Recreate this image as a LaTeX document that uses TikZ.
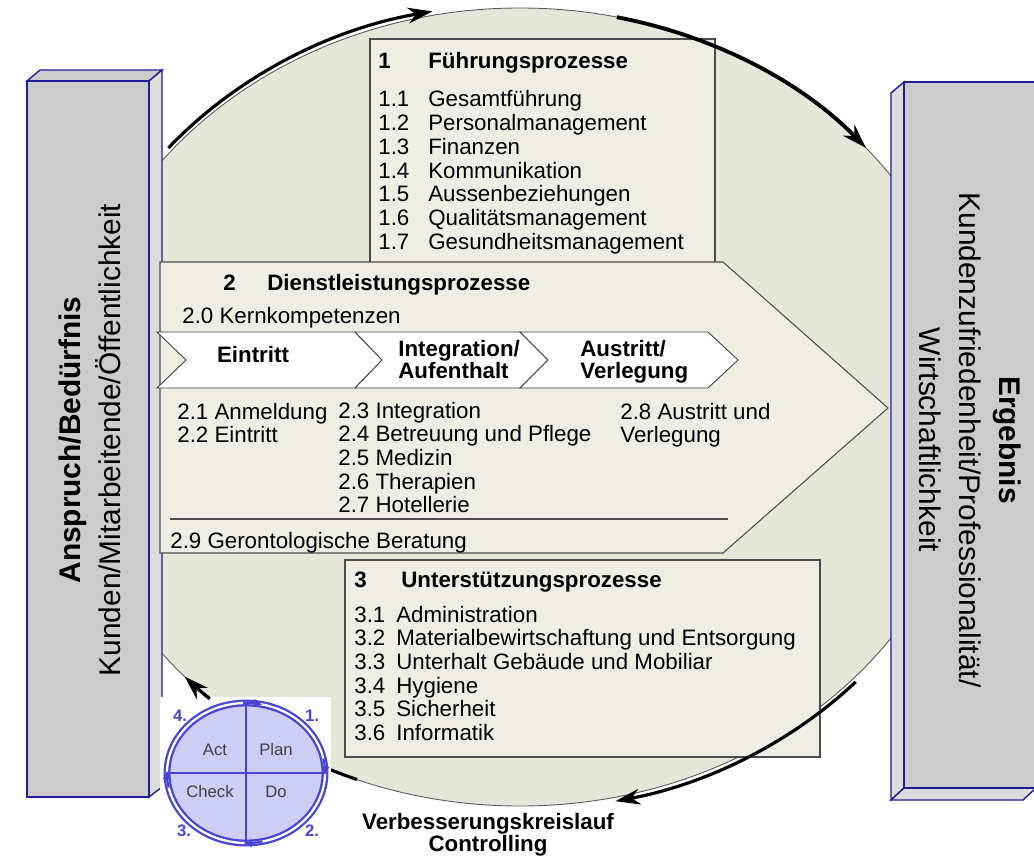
\documentclass[tikz,border=0pt]{standalone}
\usepackage{fontspec}
\setmainfont{Liberation Sans}
\usetikzlibrary{arrows.meta}

\definecolor{circfill}{RGB}{229,231,216}
\definecolor{boxfill}{RGB}{238,238,227}
\definecolor{sidegray}{RGB}{204,204,204}
\definecolor{sidelight}{RGB}{220,220,220}
\definecolor{sideblue}{RGB}{30,30,150}
\definecolor{pdcablue}{RGB}{70,70,210}
\definecolor{pdcafill}{RGB}{205,205,245}

\tikzset{
  proc/.style={fill=boxfill, draw=black!70, line width=0.6pt},
  chev/.style={fill=white, draw=black!75, line width=0.5pt},
  side/.style={fill=sidegray, draw=sideblue, line width=0.8pt},
  sidefl/.style={fill=sidelight, draw=sideblue, line width=0.8pt},
  txt/.style={font=\fontsize{12.7}{13.5}\selectfont, inner sep=0pt, anchor=base west},
  head/.style={txt, font=\fontsize{12.7}{13.5}\selectfont\bfseries},
  big/.style={font=\fontsize{17}{22.7}\selectfont, inner sep=0pt, align=center},
  cyc/.style={line width=1.8pt, -{Stealth[length=14pt,width=9pt]}},
  pdca/.style={font=\fontsize{9.5}{11}\selectfont, text=black!75, inner sep=0pt},
  pnum/.style={font=\fontsize{9.5}{11}\selectfont\bfseries, text=pdcablue, inner sep=0pt},
}

\begin{document}
\begin{tikzpicture}[x=0.02cm, y=0.02cm]
  \useasboundingbox (0,0) rectangle (1034,-855);
  \coordinate (ctr) at (520,-407);

  % big cycle
  \fill[circfill] (ctr) ellipse[x radius=455, y radius=399];
  \draw[black!65, line width=0.5pt] (ctr) ellipse[x radius=455, y radius=399];
  \draw[line width=1.8pt] ([shift={(-111:455 and 399)}]ctr) arc[start angle=-111, end angle=-134, x radius=455, y radius=399];

  % left column
  \draw[side] (27,-81) -- (40,-70) -- (162,-70) -- (149,-81) -- cycle;
  \draw[sidefl] (149,-81) -- (162,-70) -- (162,-787) -- (149,-797) -- cycle;
  \draw[side] (27,-81) rectangle (149,-797);
  \node[big, rotate=90] (anspruch) at (90,-440)
    {\textbf{Anspruch/Bedürfnis}\\Kunden/Mitarbeitende/Öffentlichkeit};

  % right column
  \draw[sidefl] (891,-93) -- (904,-82) -- (904,-788) -- (891,-800) -- cycle;
  \draw[sidefl] (891,-800) -- (904,-788) -- (1036,-788) -- (1023,-800) -- cycle;
  \draw[side] (904,-82) rectangle (1036,-788);
  \node[big, rotate=-90] (ergebnis) at (970,-440)
    {\textbf{Ergebnis}\\Kundenzufriedenheit/Professionalität/\\Wirtschaftlichkeit};

  % 1 Fuehrungsprozesse
  \draw[proc] (370,-39) rectangle (715,-300);
  \node[head] (n1) at (378,-69) {1};
  \node[head] (h1) at (428,-69) {Führungsprozesse};
  \node[txt] (l1) at (378,-107) {\begin{tabular}[t]{@{}p{1cm}@{}l@{}}
    1.1 & Gesamtführung\\ 1.2 & Personalmanagement\\ 1.3 & Finanzen\\
    1.4 & Kommunikation\\ 1.5 & Aussenbeziehungen\\ 1.6 & Qualitätsmanagement\\
    1.7 & Gesundheitsmanagement\end{tabular}};

  % 2 Dienstleistungsprozesse
  \draw[proc] (160,-262) -- (723,-262) -- (888,-408) -- (723,-553) -- (160,-553) -- cycle;
  \node[head] (n2) at (223,-290) {2};
  \node[head] (h2) at (267,-290) {Dienstleistungsprozesse};
  \node[txt] (k20) at (182,-323) {2.0 Kernkompetenzen};
  \draw[chev] (157,-332) -- (355,-332) -- (382,-360) -- (355,-388) -- (157,-388) -- (186,-360) -- cycle;
  \draw[chev] (355,-332) -- (520,-332) -- (548,-360) -- (520,-388) -- (355,-388) -- (382,-360) -- cycle;
  \draw[chev] (520,-332) -- (708,-332) -- (738,-360) -- (708,-388) -- (520,-388) -- (548,-360) -- cycle;
  \node[head, anchor=base] (c1) at (253,-362) {Eintritt};
  \node[head] (c2) at (398,-356) {\begin{tabular}[t]{@{}l@{}}Integration/\\[-0.9pt]Aufenthalt\end{tabular}};
  \node[head] (c3) at (580,-356) {\begin{tabular}[t]{@{}l@{}}Austritt/\\[-0.9pt]Verlegung\end{tabular}};
  \node[txt] (l2a) at (177,-419) {\begin{tabular}[t]{@{}l@{}}2.1 Anmeldung\\ 2.2 Eintritt\end{tabular}};
  \node[txt] (l2b) at (338,-418) {\begin{tabular}[t]{@{}l@{}}2.3 Integration\\ 2.4 Betreuung und Pflege\\
    2.5 Medizin\\ 2.6 Therapien\\ 2.7 Hotellerie\end{tabular}};
  \node[txt] (l2c) at (620,-419) {\begin{tabular}[t]{@{}l@{}}2.8 Austritt und\\ Verlegung\end{tabular}};
  \draw[black!70, line width=0.8pt] (170,-519) -- (728,-519);
  \node[txt] (k29) at (170,-548) {2.9 Gerontologische Beratung};

  % 3 Unterstuetzungsprozesse
  \draw[proc] (345,-560) rectangle (820,-757);
  \node[head] (n3) at (354,-587) {3};
  \node[head] (h3) at (401,-587) {Unterstützungsprozesse};
  \node[txt] (l3) at (354,-622) {\begin{tabular}[t]{@{}p{0.84cm}@{}l@{}}
    3.1 & Administration\\ 3.2 & Materialbewirtschaftung und Entsorgung\\
    3.3 & Unterhalt Gebäude und Mobiliar\\ 3.4 & Hygiene\\ 3.5 & Sicherheit\\
    3.6 & Informatik\end{tabular}};

  % cycle arrows
  \draw[cyc] ([shift={(140:459 and 403)}]ctr) arc[start angle=140, end angle=101, x radius=459, y radius=403];
  \draw[cyc, line width=2.2pt] ([shift={(77.7:455 and 399)}]ctr) arc[start angle=77.7, end angle=40.5, x radius=455, y radius=399];
  \draw[cyc] ([shift={(-43:459 and 403)}]ctr) arc[start angle=-43, end angle=-78, x radius=459, y radius=403];

  % PDCA
  \fill[white] (160,-697) rectangle (331,-845);
  \draw[cyc] ([shift={(-133:455 and 399)}]ctr) arc[start angle=-133, end angle=-137.5, x radius=455, y radius=399];
  \coordinate (pc) at (246,-773);
  \draw[pdcablue, line width=1.3pt, double=white, double distance=1.3pt, fill=pdcafill]
    (pc) ellipse[x radius=79, y radius=70];
  \draw[pdcablue, line width=0.6pt] (246,-703) -- (246,-843) (167,-773) -- (325,-773);
  \foreach \a in {92,12,-78,192}
    \draw[pdcablue, line width=1.2pt, -{Latex[length=5pt,width=5pt]}]
      ([shift={(\a:79 and 70)}]pc) arc[start angle=\a, end angle=\a-14, x radius=79, y radius=70];
  \node[pdca] (act) at (215,-750) {Act};
  \node[pdca] (plan) at (276,-750) {Plan};
  \node[pdca] (check) at (210,-792) {Check};
  \node[pdca] (do) at (276,-792) {Do};
  \node[pnum] (p4) at (180,-716) {4.};
  \node[pnum] (p1) at (312,-716) {1.};
  \node[pnum] (p3) at (184,-831) {3.};
  \node[pnum] (p2) at (312,-831) {2.};

  \node[head, anchor=base] (verb) at (488,-829) {\begin{tabular}[t]{@{}c@{}}Verbesserungskreislauf\\[-0.9pt]Controlling\end{tabular}};
\end{tikzpicture}
\end{document}
